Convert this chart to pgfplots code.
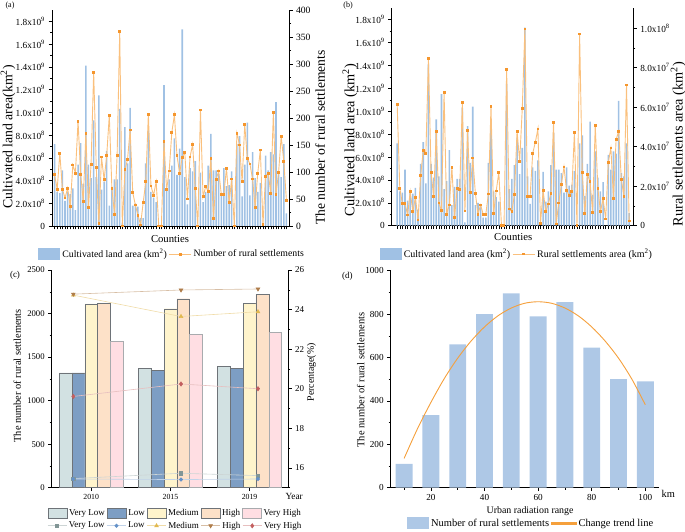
\documentclass[border=0pt]{standalone}
\usepackage{fontspec}
\setmainfont{Liberation Serif}
\usepackage{pgfplots}
\usepackage{pgfplotstable}
\pgfplotsset{compat=1.18}

\definecolor{barblue}{RGB}{160,193,228}
\definecolor{lineor}{RGB}{250,192,125}
\definecolor{markor}{RGB}{245,150,45}
\definecolor{dbar}{RGB}{174,200,230}
\definecolor{dline}{RGB}{245,160,60}
\definecolor{cVL}{RGB}{210,225,226}
\definecolor{cL}{RGB}{125,158,196}
\definecolor{cM}{RGB}{255,244,204}
\definecolor{cH}{RGB}{253,225,200}
\definecolor{cVH}{RGB}{255,222,227}
\definecolor{edge}{RGB}{110,115,120}
\definecolor{mVL}{RGB}{130,150,150}
\definecolor{mL}{RGB}{100,145,200}
\definecolor{mM}{RGB}{225,185,80}
\definecolor{mH}{RGB}{175,125,75}
\definecolor{mVH}{RGB}{195,95,95}

% counties: cultivated land (1e8 km2), number of settlements, settlement area (1e7 km2)
\pgfplotstableread{
idx land settle area
1 7.2 95 6.14
2 3.0 68 1.90
3 2.9 135 1.12
4 4.9 68 1.12
5 2.2 52 0.54
6 3.0 70 1.73
7 2.8 36 0.71
8 3.3 113 1.42
9 1.4 98 0.29
10 5.4 194 2.53
11 7.3 96 3.81
12 3.7 46 3.65
13 14.1 172 8.46
14 5.4 34 2.68
15 4.2 114 1.46
16 9.3 285 4.76
17 4.3 108 1.15
18 11.5 4 0.76
19 3.2 128 6.73
20 3.9 86 0.58
21 6.6 130 1.05
22 1.8 205 2.95
23 3.4 69 0.41
24 4.1 22 1.87
25 4.1 130 1.83
26 10.3 360 6.22
27 0.3 0 0.75
28 8.7 104 4.81
29 5.5 123 1.70
30 10.4 178 3.43
31 1.8 62 1.65
32 2.0 39 0.58
33 1.7 20 1.05
34 0.7 2 0.58
35 0.7 43 0.58
36 5.5 82 1.61
37 8.4 207 6.03
38 3.0 74 0.63
39 2.5 57 1.76
40 2.1 82 2.71
41 0 0 0.03
42 0 0 0
43 12.4 156 7.90
44 3.2 67 0.85
45 4.1 102 0.71
46 5.3 173 1.58
47 7.7 206 4.78
48 4.5 130 3.26
49 6.8 98 5.92
50 17.3 127 9.95
51 4.3 136 1.47
52 1.9 50 1.47
53 5.1 128 3.66
54 4.8 151 4.22
55 5.7 69 4.90
56 0 0 0.12
57 4.7 215 1.78
58 2.1 54 0.71
59 3.0 73 1.10
60 5.3 64 1.65
61 8.1 125 5.21
62 4.9 14 0.09
63 4.9 86 1.15
64 4.6 102 2.07
65 2.9 59 2.97
66 5.1 59 1.78
67 3.5 107 1.53
68 3.6 43 1.73
69 4.8 87 4.73
70 0 0 0
71 7.2 172 9.70
72 7.9 150 2.71
73 2.6 82 0.61
74 5.4 188 2.58
75 9.1 125 2.24
76 2.7 115 0.68
77 6.5 87 5.07
78 4.2 35 1.87
79 3.0 98 0.71
80 3.8 141 1.37
81 0 3 0.34
82 6.2 92 3.20
83 4.9 98 3.93
84 6.5 61 1.36
85 6.3 210 4.36
86 10.9 58 4.78
87 4.6 99 2.36
88 4.3 166 1.47
89 7.2 120 7.12
90 1.1 48 0.24
}\counties

\pgfplotstableread{
x VL L M H VH
0 1320 1320 2110 2120 1680
1 1370 1345 2055 2170 1760
2 1390 1370 2120 2220 1780
}\cbars

\pgfplotstableread{
x VL L M H VH
-0.226 15.46 15.44 24.73 24.78 19.61
1.134 15.73 15.41 23.65 24.99 20.24
2.106 15.61 15.44 23.89 25.04 20.00
}\clines

\pgfplotstableread{
x n
10 110
20 335
30 660
40 800
50 895
60 790
70 855
80 645
90 500
100 490
}\dbars

\pgfplotstableread{
x n
10 135
15 272
20 393
25 503
30 597
35 676
40 741
45 792
50 828
55 850
60 857
65 850
70 828
75 792
80 741
85 676
90 597
95 500
100 382
}\dtrend

\pgfplotsset{
  base/.style={scale only axis, anchor=south west, tick align=outside,
    axis line style={line width=0.6pt}, every tick/.style={black, line width=0.5pt},
    major tick length=3.5pt, minor tick length=2pt,
    /pgf/number format/assume math mode=true, /pgf/number format/1000 sep={},
    ylabel style={anchor=center}, xlabel style={anchor=center}},
  patchleg/.style={legend image code/.code={\draw[##1] (0pt,-5pt) rectangle (19pt,5pt);}},
  bigpatch/.style={legend image code/.code={\fill[##1, draw=none] (0pt,-6pt) rectangle (22pt,6pt);}},
  lineleg/.style={legend image code/.code={\draw[mark repeat=2,mark phase=2,##1] plot coordinates {(0pt,0pt) (11pt,0pt) (22pt,0pt)};}},
  shortline/.style={legend image code/.code={\draw[mark repeat=2,mark phase=2,##1] plot coordinates {(0pt,0pt) (9.5pt,0pt) (19pt,0pt)};}},
  trendleg/.style={legend image code/.code={\fill[dline] (0pt,-0.6pt) rectangle (25pt,0.6pt);}},
  noleg/.style={legend style={draw=none, fill=none, inner sep=0pt}, legend cell align=left},
}

\newcommand{\lefttix}{0,{2.0x10\textsuperscript{8}},{4.0x10\textsuperscript{8}},{6.0x10\textsuperscript{8}},{8.0x10\textsuperscript{8}},{1.0x10\textsuperscript{9}},{1.2x10\textsuperscript{9}},{1.4x10\textsuperscript{9}},{1.6x10\textsuperscript{9}},{1.8x10\textsuperscript{9}}}

\begin{document}
\begin{tikzpicture}
\path[use as bounding box] (0pt,0pt) rectangle (685pt,532pt);

% ---------------- (a)
\begin{axis}[base, at={(52pt,306pt)}, width=237pt, height=216pt,
  xmin=0, xmax=91, ymin=0, ymax=19,
  axis x line*=bottom, axis y line*=left,
  xtick={1,...,90}, xticklabels={}, major x tick style={line width=0.4pt},
  ytick={0,2,...,18}, minor ytick={1,3,...,17}, yticklabels/.expand once=\lefttix,
  tick label style={font=\fontsize{9.3}{10}\selectfont},
  ylabel={Cultivated land area(km\textsuperscript{2})},
  ylabel style={font=\fontsize{13.8}{15}\selectfont, at={(axis description cs:-0.186,0.413)}},
  xlabel={Counties},
  xlabel style={font=\fontsize{10.7}{12}\selectfont, at={(axis description cs:0.498,-0.058)}}]
\addplot[ybar, bar width=0.6, fill=barblue, draw=none] table[x=idx, y=land] {\counties};
\end{axis}
\begin{axis}[base, noleg, at={(52pt,306pt)}, width=237pt, height=216pt, clip=false,
  xmin=0, xmax=91, ymin=0, ymax=400,
  axis x line=none, axis y line*=right,
  ytick={0,50,...,400}, minor ytick={25,75,...,375},
  tick label style={font=\fontsize{9.6}{10}\selectfont},
  ylabel={The number of rural settlements},
  ylabel style={font=\fontsize{13.6}{15}\selectfont, at={(axis description cs:1.131,0.41)}},
  legend columns=2, lineleg,
  legend style={font=\fontsize{9.8}{11}\selectfont, at={(axis description cs:0.507,-0.13)}, anchor=center}]
\addlegendimage{bigpatch, fill=barblue}
\addlegendentry{Cultivated land area (km\textsuperscript{2})}
\addplot[color=lineor, line width=0.9pt, mark=square*, mark size=0.9pt, mark options={fill=markor, draw=markor}] table[x=idx, y=settle] {\counties};
\addlegendentry{Number of rural settlements}
\end{axis}
\node[font=\fontsize{8}{9}\selectfont] at (10pt,526pt) {(a)};

% ---------------- (b)
\begin{axis}[base, at={(391.7pt,306.3pt)}, width=241.6pt, height=217.4pt,
  xmin=-1.1, xmax=91.6, ymin=0, ymax=19,
  axis x line*=bottom, axis y line*=left,
  xtick={1,...,90}, xticklabels={}, major x tick style={line width=0.4pt},
  ytick={0,2,...,18}, minor ytick={1,3,...,17}, yticklabels/.expand once=\lefttix,
  tick label style={font=\fontsize{9.3}{10}\selectfont},
  ylabel={Cultivated land area (km\textsuperscript{2})},
  ylabel style={font=\fontsize{14.3}{15}\selectfont, at={(axis description cs:-0.173,0.394)}},
  xlabel={Counties},
  xlabel style={font=\fontsize{10.7}{12}\selectfont, at={(axis description cs:0.503,-0.052)}}]
\addplot[ybar, bar width=0.6, fill=barblue, draw=none] table[x=idx, y=land] {\counties};
\end{axis}
\begin{axis}[base, noleg, at={(391.7pt,306.3pt)}, width=241.6pt, height=217.4pt, clip=false,
  xmin=-1.1, xmax=91.6, ymin=0, ymax=11,
  axis x line=none, axis y line*=right,
  ytick={0,2,...,10}, minor ytick={1,3,...,9},
  yticklabels={0,{2.0x10\textsuperscript{7}},{4.0x10\textsuperscript{7}},{6.0x10\textsuperscript{7}},{8.0x10\textsuperscript{7}},{1.0x10\textsuperscript{8}}},
  tick label style={font=\fontsize{9.3}{10}\selectfont},
  ylabel={Rural settlements area (km\textsuperscript{2})},
  ylabel style={font=\fontsize{14.3}{15}\selectfont, at={(axis description cs:1.186,0.375)}},
  legend columns=2, lineleg,
  legend style={font=\fontsize{10}{11}\selectfont, at={(axis description cs:0.518,-0.13)}, anchor=center}]
\addlegendimage{bigpatch, fill=barblue}
\addlegendentry{Cultivated land area (km\textsuperscript{2})}
\addplot[color=lineor, line width=0.9pt, mark=square*, mark size=0.9pt, mark options={fill=markor, draw=markor}] table[x=idx, y=area] {\counties};
\addlegendentry{Rural settlements area (km\textsuperscript{2})}
\end{axis}
\node[font=\fontsize{8}{9}\selectfont] at (348pt,526pt) {(b)};

% ---------------- (c)
\begin{axis}[base, noleg, at={(51.7pt,44.3pt)}, width=236.3pt, height=217.7pt,
  xmin=-0.499, xmax=2.485, ymin=0, ymax=2500,
  axis x line*=bottom, axis y line*=left,
  xtick={0,1,2}, xticklabels={2010,2015,2019},
  ytick={0,500,...,2500}, minor ytick={250,750,...,2250},
  xticklabel style={font=\fontsize{7.8}{9}\selectfont},
  yticklabel style={font=\fontsize{8.7}{10}\selectfont},
  ylabel={The number of rural settlements},
  ylabel style={font=\fontsize{10.4}{12}\selectfont, at={(axis description cs:-0.146,0.514)}},
  legend columns=5,
  legend style={font=\fontsize{9}{10}\selectfont, at={(axis description cs:0.523,-0.118)}, anchor=center}]
\addplot[ybar, bar width=0.1616, bar shift=-0.3232, fill=cVL, draw=edge, line width=0.4pt, patchleg] table[x=x, y=VL] {\cbars};
\addlegendentry{Very Low}
\addplot[ybar, bar width=0.1616, bar shift=-0.1616, fill=cL, draw=edge, line width=0.4pt, patchleg] table[x=x, y=L] {\cbars};
\addlegendentry{Low}
\addplot[ybar, bar width=0.1616, bar shift=0, fill=cM, draw=edge, line width=0.4pt, patchleg] table[x=x, y=M] {\cbars};
\addlegendentry{Medium}
\addplot[ybar, bar width=0.1616, bar shift=0.1616, fill=cH, draw=edge, line width=0.4pt, patchleg] table[x=x, y=H] {\cbars};
\addlegendentry{High}
\addplot[ybar, bar width=0.1616, bar shift=0.3232, fill=cVH, draw=edge!60, line width=0.4pt, patchleg] table[x=x, y=VH] {\cbars};
\addlegendentry{Very High}
\end{axis}
\begin{axis}[base, noleg, at={(51.7pt,44.3pt)}, width=236.3pt, height=217.7pt, clip=false,
  xmin=-0.499, xmax=2.485, ymin=15, ymax=26,
  axis x line=none, axis y line*=right,
  ytick={16,18,...,26}, minor ytick={15,17,...,25},
  yticklabel style={font=\fontsize{9}{10}\selectfont},
  ylabel={Percentage(\%)},
  ylabel style={font=\fontsize{9.9}{11}\selectfont, at={(axis description cs:1.100,0.53)}},
  legend columns=5, shortline,
  legend style={font=\fontsize{9}{10}\selectfont, at={(axis description cs:0.523,-0.175)}, anchor=center}]
\addplot[color=mVL!40, line width=0.6pt, mark=square*, mark size=1.6pt, mark options={fill=mVL, draw=mVL}] table[x=x, y=VL] {\clines};
\addlegendentry{Very Low}
\addplot[color=mL!40, line width=0.6pt, mark=*, mark size=1.7pt, mark options={fill=mL, draw=mL}] table[x=x, y=L] {\clines};
\addlegendentry{Low}
\addplot[color=mM!50, line width=0.6pt, mark=triangle*, mark size=2.1pt, mark options={fill=mM, draw=mM}] table[x=x, y=M] {\clines};
\addlegendentry{Medium}
\addplot[color=mH!50, line width=0.6pt, mark=triangle*, mark size=2.1pt, mark options={fill=mH, draw=mH, rotate=180}] table[x=x, y=H] {\clines};
\addlegendentry{High}
\addplot[color=mVH!40, line width=0.6pt, mark=diamond*, mark size=2.1pt, mark options={fill=mVH, draw=mVH}] table[x=x, y=VH] {\clines};
\addlegendentry{Very High}
\end{axis}
\node[font=\fontsize{9}{10}\selectfont] at (15pt,256.3pt) {(c)};
\node[font=\fontsize{9.4}{10}\selectfont] at (294.2pt,36pt) {Year};

% ---------------- (d)
\begin{axis}[base, noleg, at={(390.7pt,44.3pt)}, width=268pt, height=217pt,
  xmin=5, xmax=105, ymin=0, ymax=1000,
  axis x line*=bottom, axis y line*=left,
  xtick={20,40,...,100}, minor xtick={10,30,...,90},
  ytick={0,200,...,1000}, minor ytick={100,300,...,900},
  tick label style={font=\fontsize{9.2}{10}\selectfont},
  ylabel={The number of rural settlements},
  ylabel style={font=\fontsize{10.5}{12}\selectfont, at={(axis description cs:-0.112,0.496)}},
  xlabel={Urban radiation range},
  xlabel style={font=\fontsize{9.9}{11}\selectfont, at={(axis description cs:0.52,-0.107)}},
  legend columns=2,
  legend style={font=\fontsize{10.5}{12}\selectfont, at={(axis description cs:0.524,-0.164)}, anchor=center}]
\addplot[ybar, bar width=6.3, fill=dbar, draw=none, bigpatch] table[x=x, y=n] {\dbars};
\addlegendentry{Number of rural settlements}
\addplot[color=dline, line width=0.9pt, smooth, no markers, forget plot] table[x=x, y=n] {\dtrend};
\addlegendimage{trendleg}
\addlegendentry{Change trend line}
\end{axis}
\node[font=\fontsize{9}{10}\selectfont] at (347.3pt,255.3pt) {(d)};
\node[font=\fontsize{10.4}{11}\selectfont] at (668.3pt,37.7pt) {km};
\end{tikzpicture}
\end{document}
